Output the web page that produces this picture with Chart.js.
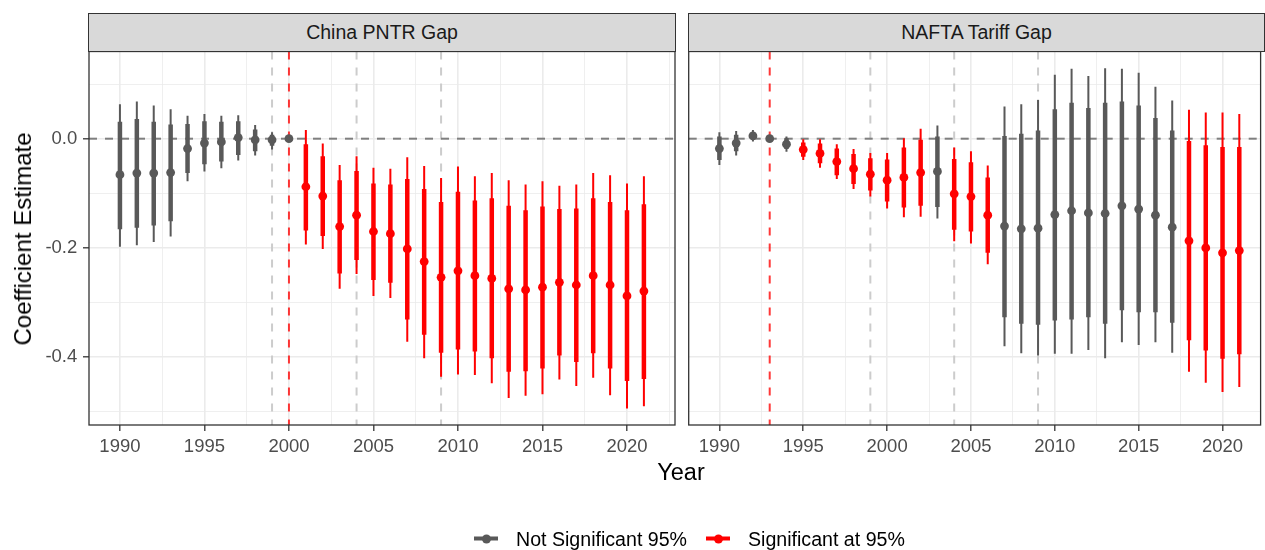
<!DOCTYPE html>
<html>
<head>
<meta charset="utf-8">
<title>Event study coefficients</title>
<script src="https://cdn.jsdelivr.net/npm/chart.js@4.4.1/dist/chart.umd.min.js"></script>
<style>
  body { margin: 0; width: 1265px; height: 550px; background: #fff; position: relative; overflow: hidden;
         font-family: "Liberation Sans", Arial, Helvetica, sans-serif; }
  canvas { position: absolute; left: 0; top: 0; }
  .strip { position: absolute; top: 12.5px; height: 39.6px; box-sizing: border-box; background: #d9d9d9;
           border: 1.3px solid #333; color: #1a1a1a; font-size: 19.5px; display: flex;
           align-items: center; justify-content: center; }
  .ytitle { position: absolute; left: 22.5px; top: 239px; transform: translate(-50%, -50%) rotate(-90deg);
            font-size: 24px; color: #000; white-space: nowrap; }
  .xtitle { position: absolute; left: 681px; top: 472px; transform: translate(-50%, -50%);
            font-size: 23.5px; color: #000; }
  .legend { position: absolute; left: 474px; top: 538.5px; transform: translateY(-50%); display: flex;
            align-items: center; font-size: 19.6px; color: #000; white-space: nowrap; }
  .key { position: relative; width: 24px; height: 10px; margin-right: 18px; }
  .key i { position: absolute; left: 0; top: 3px; width: 24px; height: 4px; }
  .key b { position: absolute; left: 7.5px; top: 0.5px; width: 9px; height: 9px; border-radius: 50%; }
  .gap { width: 19px; }
</style>
</head>
<body>
<canvas id="china" width="1265" height="550"></canvas>
<canvas id="nafta" width="1265" height="550"></canvas>
<div class="strip" style="left:88.4px; width:587.3px;">China PNTR Gap</div>
<div class="strip" style="left:688px; width:577px;">NAFTA Tariff Gap</div>
<div class="ytitle">Coefficient Estimate</div>
<div class="xtitle">Year</div>
<div class="legend">
  <span class="key"><i style="background:#595959"></i><b style="background:#595959"></b></span>
  <span>Not Significant 95%</span>
  <span class="gap"></span>
  <span class="key"><i style="background:#ff0000"></i><b style="background:#ff0000"></b></span>
  <span>Significant at 95%</span>
</div>
<script>
// event-time axis
var years = [1990, 1991, 1992, 1993, 1994, 1995, 1996, 1997, 1998, 1999, 2000, 2001, 2002, 2003, 2004, 2005,
             2006, 2007, 2008, 2009, 2010, 2011, 2012, 2013, 2014, 2015, 2016, 2017, 2018, 2019, 2020, 2021];

// China PNTR gap: point estimate, inner band (thick) and outer band (thin)
var chinaEst     = [-0.066, -0.063, -0.063, -0.062, -0.018, -0.008, -0.006,  0.002, -0.002, -0.002,  0.000,
                    -0.088, -0.105, -0.161, -0.140, -0.170, -0.174, -0.202, -0.225, -0.254, -0.242, -0.251,
                    -0.256, -0.275, -0.277, -0.272, -0.263, -0.268, -0.251, -0.268, -0.288, -0.279];
var chinaInnerHi = [ 0.031,  0.036,  0.031,  0.026,  0.027,  0.032,  0.031,  0.032,  0.017,  0.007,  0.000,
                    -0.010, -0.032, -0.076, -0.059, -0.082, -0.084, -0.074, -0.092, -0.116, -0.097, -0.113,
                    -0.109, -0.123, -0.131, -0.124, -0.129, -0.128, -0.109, -0.116, -0.131, -0.120];
var chinaInnerLo = [-0.166, -0.163, -0.159, -0.151, -0.063, -0.047, -0.042, -0.030, -0.023, -0.013,  0.000,
                    -0.168, -0.178, -0.247, -0.222, -0.259, -0.264, -0.331, -0.359, -0.392, -0.386, -0.390,
                    -0.402, -0.427, -0.426, -0.421, -0.397, -0.409, -0.393, -0.421, -0.444, -0.440];
var chinaOuterHi = [ 0.063,  0.068,  0.061,  0.054,  0.042,  0.045,  0.042,  0.043,  0.025,  0.012,  0.000,
                     0.016, -0.009, -0.048, -0.032, -0.053, -0.055, -0.034, -0.050, -0.072, -0.051, -0.069,
                    -0.063, -0.076, -0.084, -0.078, -0.086, -0.084, -0.063, -0.067, -0.082, -0.069];
var chinaOuterLo = [-0.198, -0.195, -0.189, -0.179, -0.078, -0.060, -0.054, -0.040, -0.031, -0.020,  0.000,
                    -0.194, -0.202, -0.275, -0.248, -0.288, -0.292, -0.372, -0.402, -0.436, -0.432, -0.433,
                    -0.448, -0.475, -0.471, -0.468, -0.441, -0.453, -0.438, -0.470, -0.494, -0.490];

// NAFTA tariff gap
var naftaEst     = [-0.018, -0.008,  0.005,  0.000, -0.010, -0.020, -0.027, -0.042, -0.055, -0.065, -0.076,
                    -0.071, -0.062, -0.060, -0.101, -0.106, -0.140, -0.160, -0.165, -0.164, -0.139, -0.132,
                    -0.136, -0.137, -0.123, -0.129, -0.140, -0.162, -0.187, -0.200, -0.209, -0.205];
var naftaInnerHi = [ 0.004,  0.007,  0.012,  0.000,  0.001, -0.007, -0.009, -0.018, -0.028, -0.036, -0.038,
                    -0.016, -0.002,  0.004, -0.037, -0.043, -0.071,  0.005,  0.009,  0.015,  0.054,  0.066,
                     0.056,  0.066,  0.068,  0.061,  0.038,  0.015, -0.004, -0.012, -0.015, -0.015];
var naftaInnerLo = [-0.039, -0.023, -0.001,  0.000, -0.019, -0.033, -0.045, -0.067, -0.083, -0.095, -0.115,
                    -0.126, -0.123, -0.125, -0.167, -0.170, -0.209, -0.327, -0.339, -0.341, -0.333, -0.331,
                    -0.327, -0.339, -0.314, -0.318, -0.318, -0.337, -0.369, -0.388, -0.403, -0.395];
var naftaOuterHi = [ 0.012,  0.014,  0.016,  0.000,  0.004, -0.001, -0.001, -0.010, -0.019, -0.026, -0.026,
                     0.001,  0.018,  0.024, -0.016, -0.023, -0.049,  0.059,  0.063,  0.071,  0.117,  0.128,
                     0.115,  0.129,  0.128,  0.121,  0.095,  0.070,  0.053,  0.048,  0.048,  0.045];
var naftaOuterLo = [-0.048, -0.031, -0.005,  0.000, -0.024, -0.039, -0.053, -0.074, -0.092, -0.106, -0.128,
                    -0.144, -0.143, -0.146, -0.188, -0.192, -0.230, -0.380, -0.393, -0.397, -0.394, -0.394,
                    -0.387, -0.402, -0.373, -0.378, -0.373, -0.392, -0.427, -0.447, -0.464, -0.455];

// policy dates (red) and reference years (grey)
var chinaPolicyYears = [2000];
var chinaMarkYears   = [1999, 2004, 2009];
var naftaPolicyYears = [1993];
var naftaMarkYears   = [1999, 2004, 2009];

// axis breaks
var xMajor = [1990, 1995, 2000, 2005, 2010, 2015, 2020];
var xMinor = [1987.5, 1992.5, 1997.5, 2002.5, 2007.5, 2012.5, 2017.5, 2022.5];
var yMajor = [-0.4, -0.2, 0.0];
var yMinor = [-0.5, -0.3, -0.1, 0.1];

var GREY = '#595959', RED = '#ff0000';
var TICK_FONT = { family: '"Liberation Sans", Arial, sans-serif', size: 18.5 };

// dashed guide lines and the panel border
var panelGuides = {
    id: 'panelGuides',
    beforeDatasetsDraw: function (chart, args, opts) {
        var ctx = chart.ctx, a = chart.chartArea, x = chart.scales.x, y = chart.scales.y;
        ctx.save();
        ctx.beginPath();
        ctx.rect(a.left, a.top, a.right - a.left, a.bottom - a.top);
        ctx.clip();
        ctx.lineWidth = 2;
        ctx.setLineDash([8, 8]);
        function vline(yr, color) {
            var px = x.getPixelForValue(yr);
            ctx.strokeStyle = color;
            ctx.beginPath();
            ctx.moveTo(px, a.top);
            ctx.lineTo(px, a.bottom);
            ctx.stroke();
        }
        opts.markYears.forEach(function (yr) { vline(yr, '#cccccc'); });
        opts.policyYears.forEach(function (yr) { vline(yr, 'rgba(255,0,0,0.78)'); });
        var py = y.getPixelForValue(0);
        ctx.strokeStyle = '#7f7f7f';
        ctx.beginPath();
        ctx.moveTo(a.left, py);
        ctx.lineTo(a.right, py);
        ctx.stroke();
        ctx.restore();
    },
    afterDraw: function (chart) {
        var ctx = chart.ctx, a = chart.chartArea;
        ctx.save();
        ctx.strokeStyle = '#333333';
        ctx.lineWidth = 1.3;
        ctx.strokeRect(a.left, a.top, a.right - a.left, a.bottom - a.top);
        ctx.restore();
    }
};

function isMajor(list, v) {
    return list.some(function (m) { return Math.abs(m - v) < 1e-9; });
}

function makePanel(canvasId, est, innerLo, innerHi, outerLo, outerHi, policyYears, markYears, side) {
    // significant when the inner band stays clear of zero
    var colors = years.map(function (yr, i) {
        return (innerHi[i] < 0 || innerLo[i] > 0) ? RED : GREY;
    });
    var outer = years.map(function (yr, i) { return { x: yr, y: [outerLo[i], outerHi[i]] }; });
    var inner = years.map(function (yr, i) { return { x: yr, y: [innerLo[i], innerHi[i]] }; });
    var points = years.map(function (yr, i) { return { x: yr, y: est[i] }; });
    var left = side === 'left';

    return new Chart(document.getElementById(canvasId), {
        type: 'bar',
        data: {
            datasets: [
                { type: 'scatter', data: points, backgroundColor: colors, pointRadius: 4.4,
                  pointBorderWidth: 0, order: 0 },
                { data: inner, backgroundColor: colors, maxBarThickness: 4.5, grouped: false, order: 1 },
                { data: outer, backgroundColor: colors, maxBarThickness: 2, grouped: false, order: 2 }
            ]
        },
        options: {
            responsive: false,
            animation: false,
            events: [],
            devicePixelRatio: 1,
            layout: { padding: left ? { top: 51.5, right: 590, bottom: 0, left: 0 }
                                    : { top: 51.5, right: 0.7, bottom: 0, left: 0 } },
            plugins: {
                legend: { display: false },
                tooltip: { enabled: false },
                panelGuides: { policyYears: policyYears, markYears: markYears }
            },
            scales: {
                x: {
                    type: 'linear',
                    min: 1988.17,
                    max: left ? 2022.84 : 2022.27,
                    offset: false,
                    afterBuildTicks: function (scale) {
                        scale.ticks = xMajor.concat(xMinor).sort(function (a, b) { return a - b; })
                            .filter(function (v) { return v > scale.min && v < scale.max; })
                            .map(function (v) { return { value: v }; });
                    },
                    afterFit: function (scale) { scale.height = 125; },
                    ticks: {
                        autoSkip: false, maxRotation: 0, padding: 5, color: '#4d4d4d', font: TICK_FONT,
                        callback: function (v) { return isMajor(xMajor, v) ? String(v) : ''; }
                    },
                    grid: {
                        offset: false,
                        color: '#ebebeb',
                        lineWidth: function (c) { return isMajor(xMajor, c.tick.value) ? 1.6 : 0.8; },
                        tickLength: 6,
                        tickWidth: 1.3,
                        tickColor: function (c) { return isMajor(xMajor, c.tick.value) ? '#333333' : 'rgba(0,0,0,0)'; }
                    },
                    border: { display: false }
                },
                y: {
                    type: 'linear',
                    min: -0.5244,
                    max: 0.1597,
                    afterBuildTicks: function (scale) {
                        scale.ticks = yMajor.concat(yMinor).sort(function (a, b) { return a - b; })
                            .map(function (v) { return { value: v }; });
                    },
                    afterFit: function (scale) { scale.width = left ? 89 : 688.7; },
                    ticks: {
                        display: left, padding: 5.7, color: '#4d4d4d', font: TICK_FONT,
                        callback: function (v) { return isMajor(yMajor, v) ? v.toFixed(1) : ''; }
                    },
                    grid: {
                        color: '#ebebeb',
                        lineWidth: function (c) { return isMajor(yMajor, c.tick.value) ? 1.6 : 0.8; },
                        drawTicks: left,
                        tickLength: 6,
                        tickWidth: 1.3,
                        tickColor: function (c) { return isMajor(yMajor, c.tick.value) ? '#333333' : 'rgba(0,0,0,0)'; }
                    },
                    border: { display: false }
                }
            }
        },
        plugins: [panelGuides]
    });
}

makePanel('china', chinaEst, chinaInnerLo, chinaInnerHi, chinaOuterLo, chinaOuterHi,
          chinaPolicyYears, chinaMarkYears, 'left');
makePanel('nafta', naftaEst, naftaInnerLo, naftaInnerHi, naftaOuterLo, naftaOuterHi,
          naftaPolicyYears, naftaMarkYears, 'right');
</script>
</body>
</html>
